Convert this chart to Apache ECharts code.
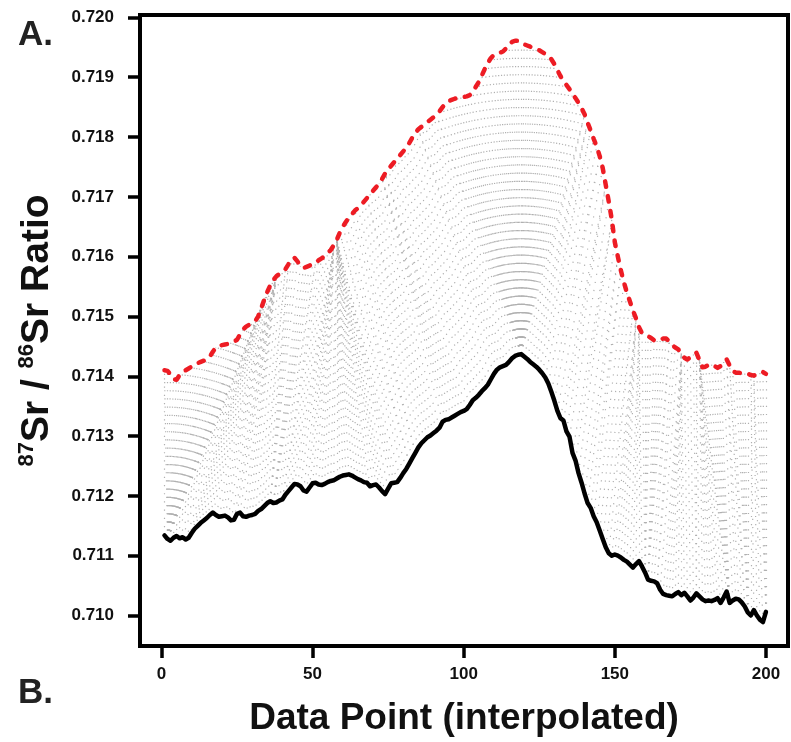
<!DOCTYPE html>
<html>
<head>
<meta charset="utf-8">
<title>87Sr/86Sr DTW alignment</title>
<script src="https://cdn.jsdelivr.net/npm/echarts@6/dist/echarts.min.js"></script>
<style>
  html, body { margin: 0; padding: 0; background: #fff; }
  #chart { width: 791px; height: 742px; }
</style>
</head>
<body>
<div id="chart"></div>
<script>
// tick labels
const xTicks = [0, 50, 100, 150, 200]
const yTicks = [0.710, 0.711, 0.712, 0.713, 0.714, 0.715, 0.716, 0.717, 0.718, 0.719, 0.720]

// query profile (black, solid), data points 1..200
const query = [
  0.71134, 0.71128, 0.71125, 0.71130, 0.71133, 0.71129, 0.71131, 0.71127, 0.71130, 0.71138,
  0.71145, 0.71150, 0.71155, 0.71159, 0.71163, 0.71168, 0.71172, 0.71168, 0.71165, 0.71166,
  0.71167, 0.71164, 0.71159, 0.71160, 0.71170, 0.71172, 0.71166, 0.71165, 0.71167, 0.71168,
  0.71170, 0.71175, 0.71178, 0.71183, 0.71188, 0.71191, 0.71188, 0.71189, 0.71192, 0.71194,
  0.71202, 0.71208, 0.71214, 0.71220, 0.71219, 0.71216, 0.71209, 0.71207, 0.71214, 0.71221,
  0.71222, 0.71219, 0.71218, 0.71220, 0.71223, 0.71225, 0.71226, 0.71229, 0.71232, 0.71234,
  0.71235, 0.71236, 0.71234, 0.71231, 0.71228, 0.71226, 0.71223, 0.71222, 0.71216, 0.71218,
  0.71219, 0.71214, 0.71208, 0.71203, 0.71212, 0.71221, 0.71222, 0.71223, 0.71230, 0.71238,
  0.71245, 0.71254, 0.71263, 0.71272, 0.71281, 0.71288, 0.71293, 0.71298, 0.71301, 0.71305,
  0.71309, 0.71314, 0.71324, 0.71327, 0.71328, 0.71331, 0.71334, 0.71337, 0.71340, 0.71342,
  0.71345, 0.71352, 0.71360, 0.71364, 0.71369, 0.71375, 0.71380, 0.71386, 0.71395, 0.71404,
  0.71411, 0.71415, 0.71417, 0.71419, 0.71424, 0.71430, 0.71434, 0.71436, 0.71437, 0.71433,
  0.71429, 0.71424, 0.71420, 0.71416, 0.71411, 0.71405, 0.71398, 0.71388, 0.71374, 0.71359,
  0.71342, 0.71330, 0.71326, 0.71308, 0.71299, 0.71272, 0.71259, 0.71238, 0.71222, 0.71204,
  0.71188, 0.71180, 0.71166, 0.71156, 0.71142, 0.71128, 0.71114, 0.71104, 0.71100, 0.71102,
  0.71100, 0.71097, 0.71093, 0.71090, 0.71085, 0.71080, 0.71086, 0.71091, 0.71082, 0.71072,
  0.71060, 0.71058, 0.71057, 0.71054, 0.71043, 0.71036, 0.71034, 0.71033, 0.71032, 0.71036,
  0.71039, 0.71034, 0.71038, 0.71032, 0.71025, 0.71030, 0.71037, 0.71032, 0.71027, 0.71024,
  0.71025, 0.71024, 0.71026, 0.71029, 0.71021, 0.71030, 0.71040, 0.71021, 0.71025, 0.71028,
  0.71027, 0.71022, 0.71015, 0.71005, 0.71000, 0.71009, 0.71000, 0.70993, 0.70989, 0.71006
]

// reference profile (red, dashed) as drawn, data points 1..200
const reference = [
  0.71410, 0.71409, 0.71403, 0.71395, 0.71394, 0.71402, 0.71407, 0.71410, 0.71413, 0.71416,
  0.71419, 0.71422, 0.71424, 0.71426, 0.71428, 0.71433, 0.71441, 0.71448, 0.71450, 0.71452,
  0.71453, 0.71454, 0.71456, 0.71458, 0.71461, 0.71470, 0.71478, 0.71483, 0.71486, 0.71489,
  0.71492, 0.71500, 0.71514, 0.71528, 0.71541, 0.71552, 0.71561, 0.71567, 0.71571, 0.71575,
  0.71579, 0.71587, 0.71596, 0.71598, 0.71592, 0.71584, 0.71581, 0.71583, 0.71585, 0.71587,
  0.71590, 0.71594, 0.71597, 0.71601, 0.71606, 0.71611, 0.71619, 0.71628, 0.71640, 0.71650,
  0.71658, 0.71665, 0.71671, 0.71677, 0.71681, 0.71686, 0.71692, 0.71698, 0.71704, 0.71710,
  0.71716, 0.71722, 0.71730, 0.71739, 0.71746, 0.71752, 0.71758, 0.71764, 0.71770, 0.71776,
  0.71782, 0.71790, 0.71799, 0.71807, 0.71813, 0.71817, 0.71821, 0.71825, 0.71829, 0.71833,
  0.71837, 0.71843, 0.71850, 0.71856, 0.71860, 0.71862, 0.71864, 0.71865, 0.71866, 0.71867,
  0.71868, 0.71870, 0.71875, 0.71884, 0.71892, 0.71903, 0.71914, 0.71924, 0.71932, 0.71937,
  0.71939, 0.71941, 0.71943, 0.71948, 0.71955, 0.71959, 0.71961, 0.71961, 0.71958, 0.71955,
  0.71953, 0.71951, 0.71949, 0.71947, 0.71945, 0.71942, 0.71939, 0.71936, 0.71930, 0.71922,
  0.71912, 0.71902, 0.71894, 0.71887, 0.71880, 0.71872, 0.71865, 0.71857, 0.71848, 0.71838,
  0.71824, 0.71811, 0.71797, 0.71784, 0.71768, 0.71748, 0.71720, 0.71692, 0.71662, 0.71624,
  0.71600, 0.71577, 0.71557, 0.71540, 0.71525, 0.71510, 0.71497, 0.71482, 0.71472, 0.71469,
  0.71467, 0.71464, 0.71460, 0.71459, 0.71461, 0.71463, 0.71463, 0.71458, 0.71452, 0.71448,
  0.71445, 0.71438, 0.71431, 0.71428, 0.71432, 0.71437, 0.71439, 0.71427, 0.71415, 0.71416,
  0.71419, 0.71420, 0.71417, 0.71414, 0.71417, 0.71424, 0.71428, 0.71418, 0.71409, 0.71406,
  0.71406, 0.71405, 0.71405, 0.71404, 0.71402, 0.71401, 0.71403, 0.71406, 0.71407, 0.71404
]

// the reference is drawn shifted up by this much above the query
const plotOffset = 0.004

const FONT = 'Liberation Sans, Arial, Helvetica, sans-serif'

// dynamic time warping (symmetric2 step pattern), returns matched index pairs
function dtwPath (a, b) {
  const n = a.length, m = b.length
  const g = new Float64Array(n * m)
  const dir = new Int8Array(n * m)
  for (let i = 0; i < n; i++) {
    for (let j = 0; j < m; j++) {
      const d = Math.abs(a[i] - b[j])
      const k = i * m + j
      if (i === 0 && j === 0) { g[k] = d; continue }
      let best = Infinity, step = 0
      if (i > 0 && j > 0 && g[k - m - 1] + 2 * d < best) { best = g[k - m - 1] + 2 * d; step = 0 }
      if (i > 0 && g[k - m] + d < best) { best = g[k - m] + d; step = 1 }
      if (j > 0 && g[k - 1] + d < best) { best = g[k - 1] + d; step = 2 }
      g[k] = best
      dir[k] = step
    }
  }
  const path = []
  let i = n - 1, j = m - 1
  while (true) {
    path.push([i, j])
    if (i === 0 && j === 0) break
    const s = dir[i * m + j]
    if (s === 0) { i--; j-- } else if (s === 1) { i-- } else { j-- }
  }
  return path.reverse()
}

const matches = dtwPath(query, reference.map(v => v - plotOffset)).map(([i, j]) => ({
  coords: [[i + 1, query[i]], [j + 1, reference[j]]]
}))

const chart = echarts.init(document.getElementById('chart'))

chart.setOption({
  animation: false,
  backgroundColor: '#fff',
  grid: {
    left: 140, right: 3, top: 15, bottom: 95,
    show: true, borderColor: '#000', borderWidth: 4
  },
  xAxis: {
    type: 'value',
    min: -7.1,
    max: 207.3,
    axisLine: { show: false, onZero: false },
    splitLine: { show: false },
    axisTick: {
      show: true, length: 12, customValues: xTicks,
      lineStyle: { color: '#000', width: 3.5 }
    },
    axisLabel: {
      customValues: xTicks, margin: 20,
      fontSize: 17, fontWeight: 'bold', color: '#111', fontFamily: FONT
    },
    name: 'Data Point (interpolated)',
    nameLocation: 'middle',
    nameGap: 54,
    nameTextStyle: { fontSize: 37, fontWeight: 'bold', color: '#111', fontFamily: FONT }
  },
  yAxis: {
    type: 'value',
    min: 0.70949,
    max: 0.72004,
    axisLine: { show: false, onZero: false },
    splitLine: { show: false },
    axisTick: {
      show: true, length: 12, customValues: yTicks,
      lineStyle: { color: '#000', width: 3.5 }
    },
    axisLabel: {
      customValues: yTicks, margin: 26,
      fontSize: 17, fontWeight: 'bold', color: '#111', fontFamily: FONT,
      formatter: v => v.toFixed(3)
    },
    name: '{sup|87}{big|Sr / }{sup|86}{big|Sr Ratio}',
    nameLocation: 'middle',
    nameRotate: 90,
    nameGap: 82,
    nameTextStyle: {
      color: '#111',
      rich: {
        sup: { fontSize: 22, fontWeight: 'bold', fontFamily: FONT, color: '#111', verticalAlign: 'top', lineHeight: 22 },
        big: { fontSize: 39, fontWeight: 'bold', fontFamily: FONT, color: '#111', lineHeight: 42 }
      }
    }
  },
  graphic: [
    { type: 'text', left: 18, top: 18, style: { text: 'A.', font: 'bold 35px ' + FONT, fill: '#222' } },
    { type: 'text', left: 18, top: 676, style: { text: 'B.', font: 'bold 35px ' + FONT, fill: '#222' } }
  ],
  series: [
    {
      type: 'lines',
      coordinateSystem: 'cartesian2d',
      silent: true,
      z: 1,
      data: matches,
      lineStyle: { color: '#b0b0b0', width: 1.2, type: [1.2, 7], opacity: 1, curveness: 0 }
    },
    {
      type: 'line',
      name: 'query',
      data: query.map((v, i) => [i + 1, v]),
      symbol: 'none',
      z: 3,
      lineStyle: { color: '#000', width: 4.5, cap: 'round', join: 'round' }
    },
    {
      type: 'line',
      name: 'reference',
      data: reference.map((v, i) => [i + 1, v]),
      symbol: 'none',
      z: 3,
      lineStyle: { color: '#ED1C24', width: 4.5, type: [5.5, 9.5], cap: 'round', join: 'round' }
    }
  ]
})
</script>
</body>
</html>
